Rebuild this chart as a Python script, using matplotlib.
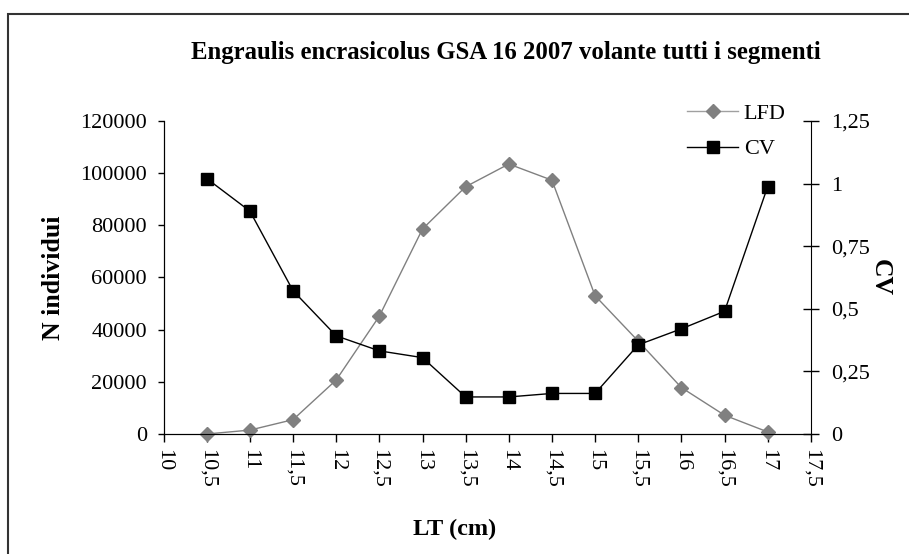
import matplotlib.pyplot as plt
from matplotlib.patches import Rectangle
from matplotlib.lines import Line2D

plt.rcParams['font.family'] = ['Liberation Serif', 'DejaVu Serif']

# lunghezza totale (cm)
lt = [10.5, 11, 11.5, 12, 12.5, 13, 13.5, 14, 14.5, 15, 15.5, 16, 16.5, 17]
# distribuzione di frequenza (N individui)
lfd = [0, 1500, 5500, 20700, 45200, 78600, 94800, 103500, 97300,
       53000, 35600, 17800, 7200, 800]
# coefficiente di variazione
cv = [1.02, 0.89, 0.572, 0.392, 0.332, 0.305, 0.148, 0.148, 0.162,
      0.162, 0.356, 0.42, 0.49, 0.988]

xticks = [10 + 0.5 * i for i in range(16)]
xlabels = [('%g' % v).replace('.', ',') for v in xticks]
yticks = [0, 20000, 40000, 60000, 80000, 100000, 120000]
y2ticks = [0, 0.25, 0.5, 0.75, 1, 1.25]
y2labels = ['0', '0,25', '0,5', '0,75', '1', '1,25']

fig = plt.figure(figsize=(9.09, 5.54), dpi=100)
ax = fig.add_axes([0.180, 0.2166, 0.712, 0.565])
ax2 = ax.twinx()

ax.plot(lt, lfd, color='#808080', lw=1, marker='D', ms=7,
        mfc='#808080', mec='#808080', clip_on=False, zorder=3)
ax2.plot(lt, cv, color='black', lw=1, marker='s', ms=8,
         mfc='black', mec='black', clip_on=False, zorder=3)

ax.set_xlim(10, 17.5)
ax.set_ylim(0, 120000)
ax2.set_ylim(0, 1.25)
ax.set_xticks(xticks)
ax.set_xticklabels(xlabels, rotation=270, fontsize=16)
ax.set_yticks(yticks)
ax.set_yticklabels([str(v) for v in yticks], fontsize=16)
ax2.set_yticks(y2ticks)
ax2.set_yticklabels(y2labels, fontsize=16)

for a in (ax, ax2):
    a.spines['top'].set_visible(False)
ax.spines['right'].set_visible(False)
ax.tick_params(axis='y', direction='out', length=4, width=1, pad=8)
ax.tick_params(axis='x', direction='out', length=6, width=1, pad=5)
ax2.tick_params(axis='y', direction='inout', length=11, width=1, pad=9)

ax.set_xlabel('LT (cm)', fontsize=17.5, fontweight='bold', labelpad=22)
ax.xaxis.label.set_x(0.45)
ax.set_ylabel('N individui', fontsize=18.5, fontweight='bold', labelpad=11)
ax2.set_ylabel('CV', fontsize=18.5, fontweight='bold', rotation=270, labelpad=16)

fig.text(0.556, 0.905, 'Engraulis encrasicolus GSA 16 2007 volante tutti i segmenti',
         ha='center', va='center', fontsize=17.8, fontweight='bold')

handles = [Line2D([], [], color='#a0a0a0', lw=1, marker='D', ms=7,
                  mfc='#808080', mec='#808080'),
           Line2D([], [], color='black', lw=1, marker='s', ms=8,
                  mfc='black', mec='black')]
fig.legend(handles, ['LFD', 'CV'], loc='upper left',
           bbox_to_anchor=(0.734, 0.85), frameon=False, fontsize=16,
           handlelength=2.3, labelspacing=0.68, handletextpad=0.25)

fig.patches.append(Rectangle((8 / 909, -0.1), 1.2, 1 - 14 / 554 + 0.1,
                             transform=fig.transFigure, fill=False,
                             edgecolor='#333333', lw=1.5))

fig.savefig('out.png', dpi=100)
